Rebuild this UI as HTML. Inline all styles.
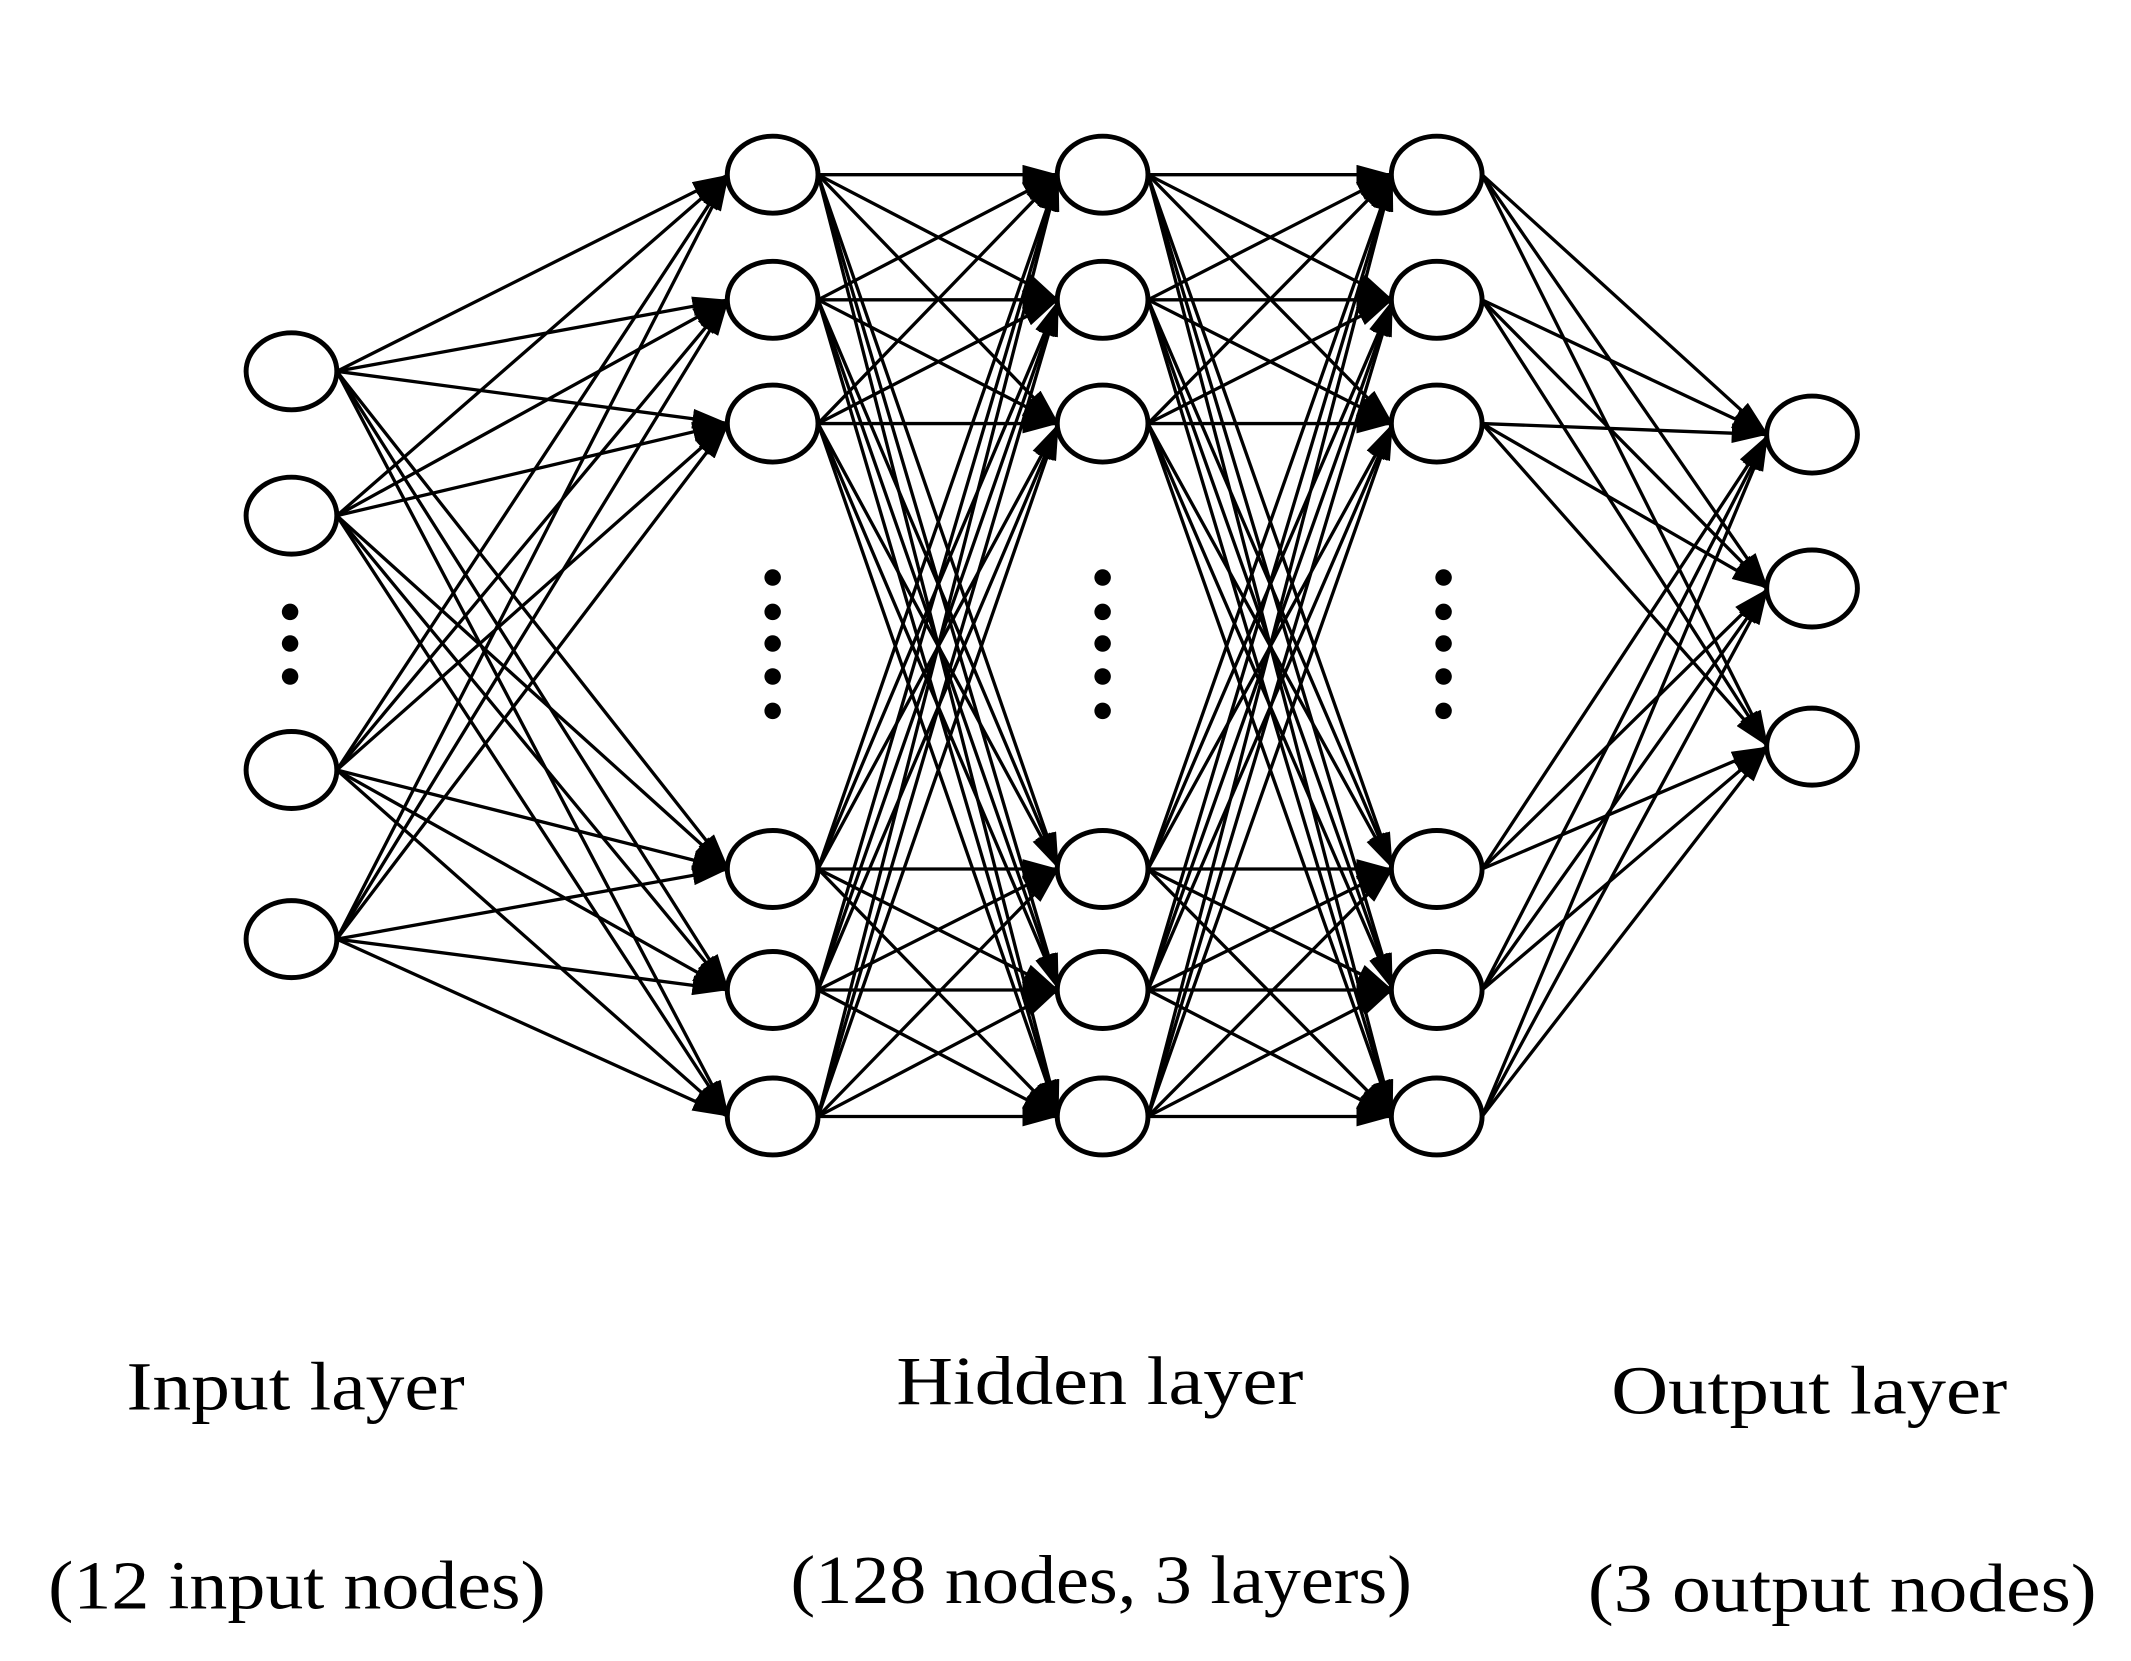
<!DOCTYPE html>
<html><head><meta charset="utf-8"><style>
html,body{margin:0;padding:0;background:#fff;}
svg{display:block;}
text{font-family:"Liberation Serif",serif;fill:#000;}
</style></head><body>
<svg id="s" width="2131" height="1661" viewBox="0 0 1550 1208" xmlns="http://www.w3.org/2000/svg">
<defs>
<marker id="a" viewBox="0 0 11 6" refX="11" refY="3" markerWidth="11" markerHeight="6" markerUnits="strokeWidth" orient="auto" preserveAspectRatio="none">
<path d="M0,0 L11,3 L0,6 z" fill="#000"/>
</marker>
</defs>
<g id="edges" stroke="#000" stroke-width="2.4" fill="none"></g>
<g id="nodes" stroke="#000" stroke-width="3.6" fill="#fff"></g>
<g id="dots" fill="#000"></g>
<text x="215" y="1025" font-size="50" text-anchor="middle" textLength="246" lengthAdjust="spacingAndGlyphs">Input layer</text>
<text x="800" y="1021" font-size="50" text-anchor="middle" textLength="296" lengthAdjust="spacingAndGlyphs">Hidden layer</text>
<text x="1316" y="1028" font-size="50" text-anchor="middle" textLength="288" lengthAdjust="spacingAndGlyphs">Output layer</text>
<text x="216" y="1170" font-size="50" text-anchor="middle" textLength="362" lengthAdjust="spacingAndGlyphs">(12 input nodes)</text>
<text x="801" y="1166" font-size="50" text-anchor="middle" textLength="452" lengthAdjust="spacingAndGlyphs">(128 nodes, 3 layers)</text>
<text x="1340" y="1172" font-size="50" text-anchor="middle" textLength="370" lengthAdjust="spacingAndGlyphs">(3 output nodes)</text>
</svg>
<script>
var NS="http://www.w3.org/2000/svg";
var rx=33,ry=28;
var hy=[127,218,308,632,720,812];
var layers=[
 {x:212,ys:[270,375,560,683]},
 {x:562,ys:hy},{x:802,ys:hy},{x:1045,ys:hy},
 {x:1318,ys:[316,428,543]}
];
var E=document.getElementById('edges'),N=document.getElementById('nodes'),D=document.getElementById('dots');
for(var l=0;l<layers.length-1;l++){
 var A=layers[l],B=layers[l+1];
 A.ys.forEach(function(y1){B.ys.forEach(function(y2){
  var x1=A.x+rx,x2=B.x-rx+1;
  var ln=document.createElementNS(NS,'line');
  ln.setAttribute('x1',x1);ln.setAttribute('y1',y1);
  ln.setAttribute('x2',x2);ln.setAttribute('y2',y2);
  ln.setAttribute('marker-end','url(#a)');
  E.appendChild(ln);
 });});
}
layers.forEach(function(L){L.ys.forEach(function(y){
 var e=document.createElementNS(NS,'ellipse');
 e.setAttribute('cx',L.x);e.setAttribute('cy',y);e.setAttribute('rx',rx);e.setAttribute('ry',ry);
 N.appendChild(e);
});});
function dot(x,y){var c=document.createElementNS(NS,'circle');c.setAttribute('cx',x);c.setAttribute('cy',y);c.setAttribute('r',6);D.appendChild(c);}
[445,468,492].forEach(function(y){dot(211,y);});
[562,802,1050].forEach(function(x){[420,445,468,492,517].forEach(function(y){dot(x,y);});});
</script>
</body></html>
